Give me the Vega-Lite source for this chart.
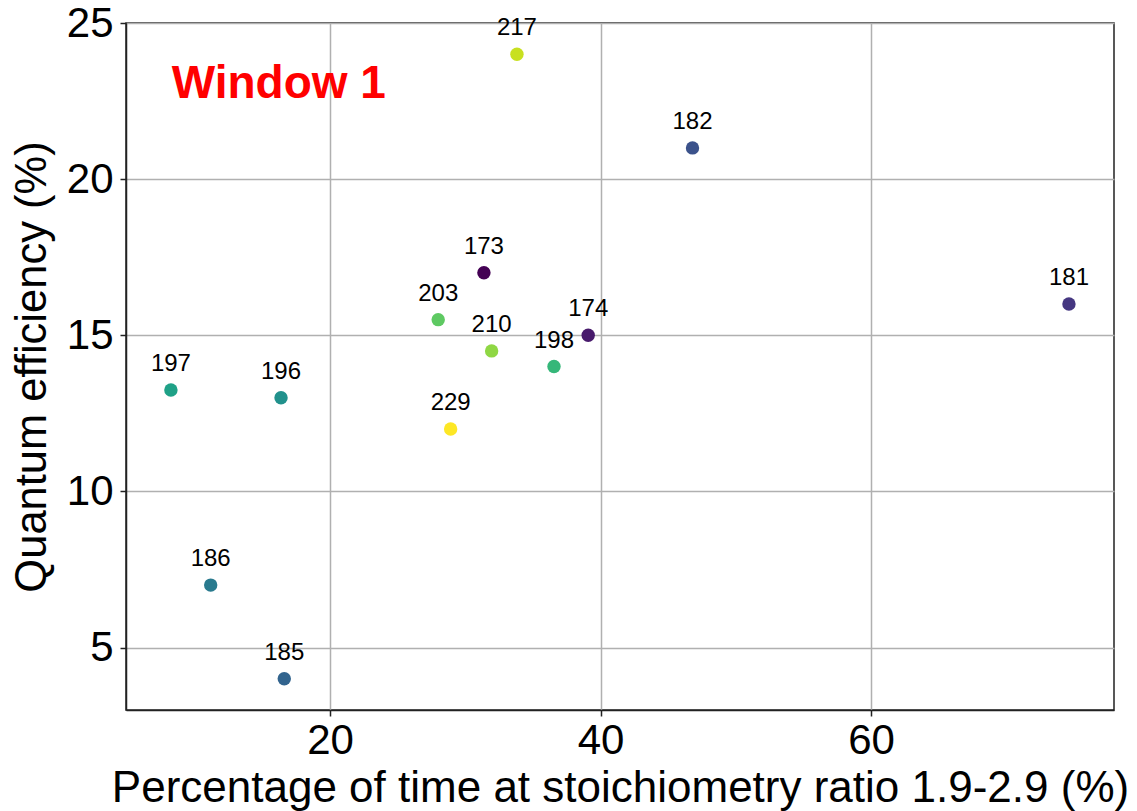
{
  "$schema": "https://vega.github.io/schema/vega-lite/v6.json",
  "autosize": {"type": "none"},
  "padding": {"left": 126, "top": 23, "right": 23, "bottom": 101},
  "width": 988,
  "height": 687,
  "background": "white",
  "config": {
    "font": "Liberation Sans",
    "view": {"stroke": "#222222", "strokeWidth": 1.5},
    "axis": {
      "labelFont": "Liberation Sans",
      "titleFont": "Liberation Sans",
      "labelFontSize": 42,
      "titleFontSize": 43,
      "titleFontWeight": "normal",
      "labelColor": "black",
      "titleColor": "black",
      "domainColor": "#222222",
      "domainWidth": 1.5,
      "tickColor": "#222222",
      "tickWidth": 1.5,
      "tickSize": 6,
      "gridColor": "#b0b0b0",
      "gridWidth": 1.5
    }
  },
  "datasets": {
    "runs": [
      {"id": 173, "stoich_time": 31.38, "qe": 17},
      {"id": 174, "stoich_time": 39.09, "qe": 15},
      {"id": 181, "stoich_time": 74.63, "qe": 16},
      {"id": 182, "stoich_time": 46.8, "qe": 21},
      {"id": 185, "stoich_time": 16.62, "qe": 4},
      {"id": 186, "stoich_time": 11.18, "qe": 7},
      {"id": 196, "stoich_time": 16.38, "qe": 13},
      {"id": 197, "stoich_time": 8.24, "qe": 13.25},
      {"id": 198, "stoich_time": 36.56, "qe": 14},
      {"id": 203, "stoich_time": 28.0, "qe": 15.5},
      {"id": 210, "stoich_time": 31.95, "qe": 14.5},
      {"id": 217, "stoich_time": 33.82, "qe": 24},
      {"id": 229, "stoich_time": 28.92, "qe": 12}
    ],
    "note": [
      {"label": "Window 1", "stoich_time": 8.3, "qe": 22.6}
    ]
  },
  "layer": [
    {
      "data": {"name": "runs"},
      "mark": {"type": "point", "filled": true, "size": 180, "opacity": 1},
      "encoding": {
        "x": {
          "field": "stoich_time",
          "type": "quantitative",
          "scale": {"domain": [4.92, 77.96], "nice": false, "zero": false},
          "axis": {
            "values": [20, 40, 60],
            "title": "Percentage of time at stoichiometry ratio 1.9-2.9 (%)",
            "titleFontSize": 44,
            "labelPadding": 4,
            "titlePadding": 5
          }
        },
        "y": {
          "field": "qe",
          "type": "quantitative",
          "scale": {"domain": [3, 25], "nice": false, "zero": false},
          "axis": {
            "values": [5, 10, 15, 20, 25],
            "title": "Quantum efficiency (%)",
            "titleFontSize": 43.5,
            "labelPadding": 7,
            "titlePadding": 12
          }
        },
        "color": {
          "field": "id",
          "type": "ordinal",
          "scale": {
            "domain": [173, 174, 181, 182, 185, 186, 196, 197, 198, 203, 210, 217, 229],
            "range": ["#440154", "#481a6c", "#453781", "#3b528b", "#32648e", "#297a8e", "#21918c", "#1fa187", "#35b779", "#5ec962", "#8fd744", "#c8e020", "#fde725"]
          },
          "legend": null
        }
      }
    },
    {
      "data": {"name": "runs"},
      "mark": {"type": "text", "fontSize": 24, "baseline": "alphabetic", "align": "center", "dy": -19, "color": "black"},
      "encoding": {
        "x": {"field": "stoich_time", "type": "quantitative"},
        "y": {"field": "qe", "type": "quantitative"},
        "text": {"field": "id", "type": "nominal"}
      }
    },
    {
      "data": {"name": "note"},
      "mark": {"type": "text", "fontSize": 46, "fontWeight": "bold", "color": "#ff0000", "align": "left", "baseline": "alphabetic"},
      "encoding": {
        "x": {"field": "stoich_time", "type": "quantitative"},
        "y": {"field": "qe", "type": "quantitative"},
        "text": {"field": "label", "type": "nominal"}
      }
    }
  ]
}
